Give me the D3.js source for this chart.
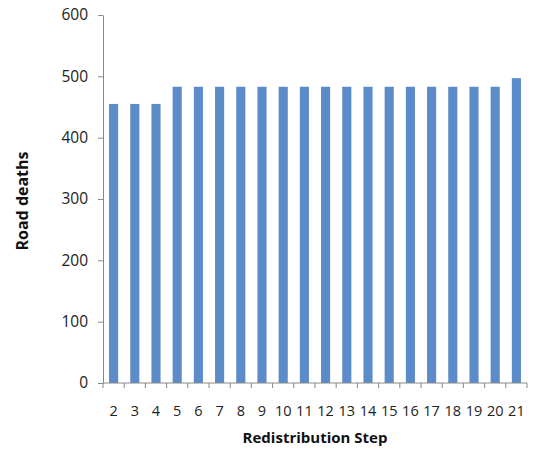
<!DOCTYPE html>
<html><head><meta charset="utf-8">
<script src="https://cdn.jsdelivr.net/npm/d3@7"></script>
<style>body{margin:0;background:#fff}</style>
</head><body>
<svg id="c" width="538" height="455"></svg>
<script>
const categories = ["2","3","4","5","6","7","8","9","10","11","12","13","14","15","16","17","18","19","20","21"];
const values = [455,455,455,483,483,483,483,483,483,483,483,483,483,483,483,483,483,483,483,497];
const yTicks = [0,100,200,300,400,500,600];

(function(){
const svg = d3.select("#c");
const mLeft = 103, mRight = 527, mTop = 15, mBottom = 383;
const font = "'Open Sans', sans-serif";

const x = d3.scaleBand().domain(categories).range([mLeft, mRight]).paddingInner(0.57).paddingOuter(0.285);
const xb = d3.scaleBand().domain(categories).range([mLeft, mRight]).padding(0);
const y = d3.scaleLinear().domain([0, 600]).range([mBottom, mTop]);

svg.append("g").selectAll("rect").data(values).join("rect")
  .attr("x", (d,i) => x(categories[i]))
  .attr("width", x.bandwidth())
  .attr("y", d => y(d))
  .attr("height", d => y(0) - y(d))
  .attr("fill", "#5b8cc9");

const ya = svg.append("g").attr("transform", `translate(${mLeft},0)`)
  .call(d3.axisLeft(y).tickValues(yTicks).tickSize(5).tickPadding(10).tickSizeOuter(0));
ya.select(".domain").attr("stroke", "#888");
ya.selectAll(".tick line").attr("stroke", "#888");
ya.selectAll(".tick text").attr("font-family", font).attr("font-size", 15.5).attr("fill", "#222");

const xa = svg.append("g").attr("transform", `translate(0,${mBottom})`);
xa.append("line").attr("x1", mLeft).attr("x2", mRight).attr("stroke", "#888");
xa.selectAll("line.t").data(categories.concat(["end"])).join("line").attr("class","t")
  .attr("x1", (d,i) => i < categories.length ? xb(d) : mRight)
  .attr("x2", (d,i) => i < categories.length ? xb(d) : mRight)
  .attr("y1", 0).attr("y2", 5).attr("stroke", "#888");
xa.selectAll("text").data(categories).join("text")
  .attr("x", d => xb(d) + xb.bandwidth()/2)
  .attr("y", 33)
  .attr("text-anchor", "middle")
  .attr("font-family", font).attr("font-size", 14.5).attr("fill", "#222")
  .text(d => d);

svg.append("text").attr("x", 315).attr("y", 443).attr("text-anchor", "middle")
  .attr("font-family", font).attr("font-size", 15).attr("font-weight", "bold").attr("fill", "#111")
  .text("Redistribution Step");
svg.append("text").attr("transform", "translate(28,201) rotate(-90)").attr("text-anchor", "middle")
  .attr("font-family", font).attr("font-size", 16).attr("font-weight", "bold").attr("fill", "#111")
  .text("Road deaths");
})();
</script>
</body></html>
